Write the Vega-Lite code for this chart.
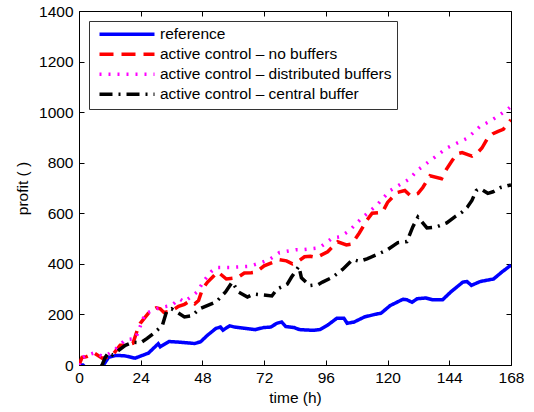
{
"$schema":"https://vega.github.io/schema/vega-lite/v6.json",
"width":432,"height":354,
"autosize":{"type":"none"},
"padding":{"left":79,"top":11,"right":23,"bottom":47},
"background":"white",
"config":{"view":{"stroke":"black","strokeWidth":1},"font":"Liberation Sans",
"axis":{"grid":false,"domain":false,"tickColor":"black","tickSize":-5,"labelFontSize":15.5,"labelColor":"black","labelFlush":false,"labelOverlap":false,"titleFontSize":15.5,"titleFont":"Liberation Sans","labelFont":"Liberation Sans","titleFontWeight":"normal","titleColor":"black","format":"d"}},
"datasets":{
"d":[
{"s":"reference","t":0,"v":0},{"s":"reference","t":1.5,"v":0},{"s":"reference","t":3,"v":-15},{"s":"reference","t":6,"v":-30},{"s":"reference","t":8.5,"v":-15},{"s":"reference","t":9.5,"v":0},{"s":"reference","t":11.5,"v":30},{"s":"reference","t":14.5,"v":38},{"s":"reference","t":18,"v":36},{"s":"reference","t":21.8,"v":27},{"s":"reference","t":27,"v":47},{"s":"reference","t":30.8,"v":84},{"s":"reference","t":31.6,"v":72},{"s":"reference","t":35,"v":93},{"s":"reference","t":39.3,"v":90},{"s":"reference","t":45,"v":85},{"s":"reference","t":47.3,"v":92},{"s":"reference","t":50,"v":118},{"s":"reference","t":53.3,"v":145},{"s":"reference","t":55,"v":150},{"s":"reference","t":56,"v":138},{"s":"reference","t":58.6,"v":155},{"s":"reference","t":60.5,"v":150},{"s":"reference","t":64.5,"v":145},{"s":"reference","t":68.5,"v":140},{"s":"reference","t":71.8,"v":148},{"s":"reference","t":74.5,"v":150},{"s":"reference","t":77,"v":165},{"s":"reference","t":78.8,"v":170},{"s":"reference","t":80.4,"v":152},{"s":"reference","t":83.7,"v":148},{"s":"reference","t":85.7,"v":140},{"s":"reference","t":91,"v":137},{"s":"reference","t":93.7,"v":140},{"s":"reference","t":97,"v":160},{"s":"reference","t":100.3,"v":185},{"s":"reference","t":103,"v":185},{"s":"reference","t":104.3,"v":165},{"s":"reference","t":107,"v":170},{"s":"reference","t":111,"v":190},{"s":"reference","t":115,"v":200},{"s":"reference","t":117.5,"v":205},{"s":"reference","t":121,"v":235},{"s":"reference","t":126,"v":260},{"s":"reference","t":127.5,"v":258},{"s":"reference","t":129.5,"v":248},{"s":"reference","t":131.5,"v":262},{"s":"reference","t":134.8,"v":265},{"s":"reference","t":137.4,"v":258},{"s":"reference","t":141.4,"v":258},{"s":"reference","t":144.7,"v":290},{"s":"reference","t":149.3,"v":328},{"s":"reference","t":150.9,"v":330},{"s":"reference","t":152.6,"v":315},{"s":"reference","t":156,"v":330},{"s":"reference","t":160,"v":338},{"s":"reference","t":161.2,"v":340},{"s":"reference","t":164.5,"v":368},{"s":"reference","t":168,"v":395},
{"s":"active control – no buffers","t":0,"v":0},{"s":"active control – no buffers","t":1.2,"v":30},{"s":"active control – no buffers","t":3,"v":33},{"s":"active control – no buffers","t":6,"v":47},{"s":"active control – no buffers","t":9,"v":27},{"s":"active control – no buffers","t":11,"v":30},{"s":"active control – no buffers","t":13,"v":39},{"s":"active control – no buffers","t":16,"v":78},{"s":"active control – no buffers","t":18,"v":78},{"s":"active control – no buffers","t":21,"v":86},{"s":"active control – no buffers","t":22.6,"v":136},{"s":"active control – no buffers","t":23.8,"v":164},{"s":"active control – no buffers","t":27.7,"v":214},{"s":"active control – no buffers","t":30,"v":226},{"s":"active control – no buffers","t":31.6,"v":222},{"s":"active control – no buffers","t":33,"v":208},{"s":"active control – no buffers","t":36,"v":214},{"s":"active control – no buffers","t":38.7,"v":232},{"s":"active control – no buffers","t":41,"v":240},{"s":"active control – no buffers","t":43,"v":253},{"s":"active control – no buffers","t":45,"v":242},{"s":"active control – no buffers","t":46.5,"v":255},{"s":"active control – no buffers","t":48,"v":300},{"s":"active control – no buffers","t":50,"v":328},{"s":"active control – no buffers","t":54,"v":368},{"s":"active control – no buffers","t":57.3,"v":340},{"s":"active control – no buffers","t":59,"v":342},{"s":"active control – no buffers","t":61.6,"v":345},{"s":"active control – no buffers","t":64.3,"v":364},{"s":"active control – no buffers","t":67,"v":365},{"s":"active control – no buffers","t":69,"v":368},{"s":"active control – no buffers","t":72,"v":392},{"s":"active control – no buffers","t":76,"v":408},{"s":"active control – no buffers","t":78,"v":416},{"s":"active control – no buffers","t":80.7,"v":412},{"s":"active control – no buffers","t":83,"v":400},{"s":"active control – no buffers","t":84.6,"v":405},{"s":"active control – no buffers","t":87.7,"v":428},{"s":"active control – no buffers","t":90,"v":430},{"s":"active control – no buffers","t":92.4,"v":425},{"s":"active control – no buffers","t":96.7,"v":448},{"s":"active control – no buffers","t":100.6,"v":487},{"s":"active control – no buffers","t":104,"v":475},{"s":"active control – no buffers","t":106,"v":478},{"s":"active control – no buffers","t":109,"v":522},{"s":"active control – no buffers","t":112,"v":573},{"s":"active control – no buffers","t":114,"v":600},{"s":"active control – no buffers","t":118,"v":604},{"s":"active control – no buffers","t":120,"v":643},{"s":"active control – no buffers","t":123.6,"v":682},{"s":"active control – no buffers","t":126.7,"v":690},{"s":"active control – no buffers","t":129,"v":668},{"s":"active control – no buffers","t":131.8,"v":678},{"s":"active control – no buffers","t":133.7,"v":702},{"s":"active control – no buffers","t":136.5,"v":748},{"s":"active control – no buffers","t":141,"v":737},{"s":"active control – no buffers","t":143,"v":776},{"s":"active control – no buffers","t":145,"v":807},{"s":"active control – no buffers","t":147,"v":835},{"s":"active control – no buffers","t":149,"v":840},{"s":"active control – no buffers","t":152.8,"v":826},{"s":"active control – no buffers","t":155,"v":840},{"s":"active control – no buffers","t":156.7,"v":858},{"s":"active control – no buffers","t":158.7,"v":893},{"s":"active control – no buffers","t":161,"v":915},{"s":"active control – no buffers","t":163,"v":924},{"s":"active control – no buffers","t":165,"v":932},{"s":"active control – no buffers","t":168,"v":970},
{"s":"active control – distributed buffers","t":0,"v":0},{"s":"active control – distributed buffers","t":1,"v":27},{"s":"active control – distributed buffers","t":3,"v":38},{"s":"active control – distributed buffers","t":6,"v":48},{"s":"active control – distributed buffers","t":9,"v":35},{"s":"active control – distributed buffers","t":11,"v":40},{"s":"active control – distributed buffers","t":14,"v":60},{"s":"active control – distributed buffers","t":18,"v":100},{"s":"active control – distributed buffers","t":22,"v":105},{"s":"active control – distributed buffers","t":25.7,"v":203},{"s":"active control – distributed buffers","t":30.8,"v":225},{"s":"active control – distributed buffers","t":33,"v":230},{"s":"active control – distributed buffers","t":36,"v":235},{"s":"active control – distributed buffers","t":39,"v":262},{"s":"active control – distributed buffers","t":41,"v":250},{"s":"active control – distributed buffers","t":46,"v":289},{"s":"active control – distributed buffers","t":48.7,"v":335},{"s":"active control – distributed buffers","t":51.5,"v":370},{"s":"active control – distributed buffers","t":53.4,"v":386},{"s":"active control – distributed buffers","t":58.5,"v":386},{"s":"active control – distributed buffers","t":66,"v":390},{"s":"active control – distributed buffers","t":71,"v":405},{"s":"active control – distributed buffers","t":74,"v":417},{"s":"active control – distributed buffers","t":78,"v":445},{"s":"active control – distributed buffers","t":84.6,"v":456},{"s":"active control – distributed buffers","t":87,"v":456},{"s":"active control – distributed buffers","t":93.6,"v":464},{"s":"active control – distributed buffers","t":98.6,"v":503},{"s":"active control – distributed buffers","t":101.4,"v":507},{"s":"active control – distributed buffers","t":105,"v":530},{"s":"active control – distributed buffers","t":108,"v":561},{"s":"active control – distributed buffers","t":110,"v":581},{"s":"active control – distributed buffers","t":115.8,"v":632},{"s":"active control – distributed buffers","t":121,"v":690},{"s":"active control – distributed buffers","t":128.7,"v":737},{"s":"active control – distributed buffers","t":131.4,"v":768},{"s":"active control – distributed buffers","t":140.4,"v":838},{"s":"active control – distributed buffers","t":143,"v":858},{"s":"active control – distributed buffers","t":151,"v":897},{"s":"active control – distributed buffers","t":156,"v":944},{"s":"active control – distributed buffers","t":160,"v":965},{"s":"active control – distributed buffers","t":163,"v":985},{"s":"active control – distributed buffers","t":166.5,"v":1010},{"s":"active control – distributed buffers","t":168,"v":1022},
{"s":"active control – central buffer","t":0,"v":-60},{"s":"active control – central buffer","t":5,"v":-40},{"s":"active control – central buffer","t":9,"v":0},{"s":"active control – central buffer","t":10.2,"v":30},{"s":"active control – central buffer","t":11.5,"v":50},{"s":"active control – central buffer","t":13,"v":40},{"s":"active control – central buffer","t":15,"v":55},{"s":"active control – central buffer","t":18,"v":78},{"s":"active control – central buffer","t":21,"v":90},{"s":"active control – central buffer","t":24,"v":88},{"s":"active control – central buffer","t":26.5,"v":105},{"s":"active control – central buffer","t":29,"v":125},{"s":"active control – central buffer","t":32.4,"v":156},{"s":"active control – central buffer","t":34,"v":210},{"s":"active control – central buffer","t":36,"v":222},{"s":"active control – central buffer","t":38,"v":210},{"s":"active control – central buffer","t":41,"v":190},{"s":"active control – central buffer","t":44,"v":195},{"s":"active control – central buffer","t":46.8,"v":222},{"s":"active control – central buffer","t":53.4,"v":250},{"s":"active control – central buffer","t":57,"v":289},{"s":"active control – central buffer","t":59.6,"v":328},{"s":"active control – central buffer","t":62,"v":289},{"s":"active control – central buffer","t":65.5,"v":269},{"s":"active control – central buffer","t":68,"v":281},{"s":"active control – central buffer","t":75,"v":273},{"s":"active control – central buffer","t":77,"v":300},{"s":"active control – central buffer","t":81,"v":320},{"s":"active control – central buffer","t":82.6,"v":347},{"s":"active control – central buffer","t":85.5,"v":390},{"s":"active control – central buffer","t":86.5,"v":345},{"s":"active control – central buffer","t":89.7,"v":314},{"s":"active control – central buffer","t":93,"v":318},{"s":"active control – central buffer","t":94.7,"v":328},{"s":"active control – central buffer","t":98.6,"v":347},{"s":"active control – central buffer","t":102.5,"v":378},{"s":"active control – central buffer","t":106.4,"v":417},{"s":"active control – central buffer","t":109,"v":410},{"s":"active control – central buffer","t":112,"v":420},{"s":"active control – central buffer","t":116,"v":437},{"s":"active control – central buffer","t":120,"v":456},{"s":"active control – central buffer","t":124,"v":484},{"s":"active control – central buffer","t":127.5,"v":488},{"s":"active control – central buffer","t":129.8,"v":546},{"s":"active control – central buffer","t":131.8,"v":585},{"s":"active control – central buffer","t":135.3,"v":542},{"s":"active control – central buffer","t":139,"v":546},{"s":"active control – central buffer","t":143,"v":562},{"s":"active control – central buffer","t":146,"v":585},{"s":"active control – central buffer","t":149,"v":605},{"s":"active control – central buffer","t":151,"v":624},{"s":"active control – central buffer","t":152.8,"v":651},{"s":"active control – central buffer","t":154.5,"v":690},{"s":"active control – central buffer","t":156,"v":698},{"s":"active control – central buffer","t":159,"v":679},{"s":"active control – central buffer","t":161,"v":685},{"s":"active control – central buffer","t":164,"v":702},{"s":"active control – central buffer","t":167,"v":710},{"s":"active control – central buffer","t":168,"v":712}
]},
"data":{"name":"d"},
"layer":[
{"mark":{"type":"line","clip":true,"strokeWidth":3.5,"interpolate":"linear"},
"encoding":{
"x":{"field":"t","type":"quantitative","scale":{"domain":[0,168],"nice":false},"axis":{"values":[0,24,48,72,96,120,144,168],"title":"time (h)","labelPadding":10,"titlePadding":5}},
"y":{"field":"v","type":"quantitative","scale":{"domain":[0,1400],"nice":false},"axis":{"values":[0,200,400,600,800,1000,1200,1400],"title":"profit ( )","labelPadding":11,"titlePadding":8}},
"color":{"field":"s","type":"nominal","scale":{"domain":["reference","active control – no buffers","active control – distributed buffers","active control – central buffer"],"range":["#0000ff","#ff0000","#ff00ff","#000000"]},
"legend":{"orient":"none","legendX":10,"legendY":10,"title":null,"symbolType":"M-0.5,0H9.5","symbolSize":121,"symbolStrokeWidth":3.5,"labelFontSize":15.5,"labelFont":"Liberation Sans","labelColor":"black","strokeColor":"#333","fillColor":"white","padding":5.5,"rowPadding":3,"labelOffset":50,"labelLimit":400}},
"strokeDash":{"field":"s","type":"nominal","scale":{"domain":["reference","active control – no buffers","active control – distributed buffers","active control – central buffer"],"range":[[1,0],[14,8],[2,7],[13,6,2,6]]},"legend":{"orient":"none","legendX":10,"legendY":10,"title":null}},
"order":{"field":"t","type":"quantitative"}
}},
{"mark":{"type":"line","opacity":0,"clip":true},
"encoding":{
"x":{"field":"t","type":"quantitative","scale":{"domain":[0,168],"nice":false},"axis":{"orient":"top","values":[0,24,48,72,96,120,144,168],"labels":false,"title":null}},
"y":{"field":"v","type":"quantitative","scale":{"domain":[0,1400],"nice":false},"axis":{"orient":"right","values":[0,200,400,600,800,1000,1200,1400],"labels":false,"title":null}},
"detail":{"field":"s"}
}}
],
"resolve":{"axis":{"x":"independent","y":"independent"}}
}
